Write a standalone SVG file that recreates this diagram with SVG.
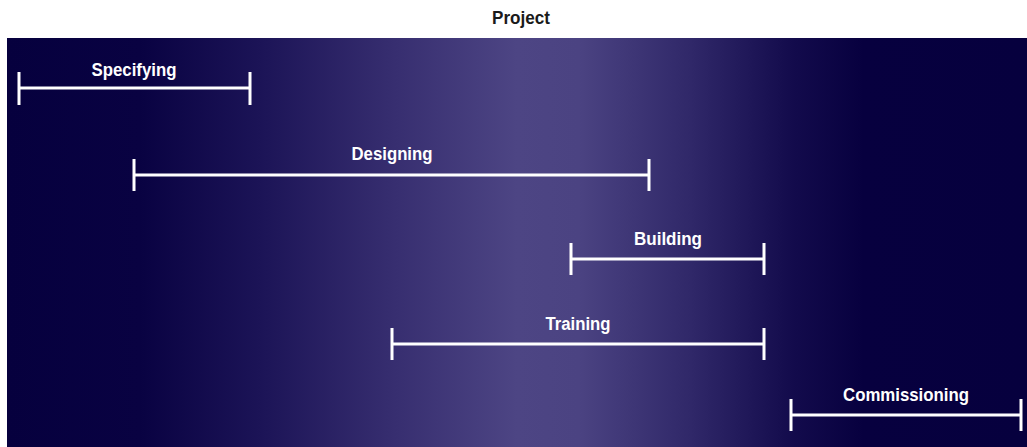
<svg xmlns="http://www.w3.org/2000/svg" width="1027" height="447" viewBox="0 0 1027 447">
<style>
.lbl{font-family:"Liberation Sans",Arial,sans-serif;font-weight:bold;font-size:18px;fill:#ffffff;text-anchor:middle}
.title{font-family:"Liberation Sans",Arial,sans-serif;font-weight:bold;font-size:18px;fill:#1a1a1a;text-anchor:middle}
.bar{stroke:#ffffff;stroke-width:3;fill:none}
</style>
<defs>
<linearGradient id="bg" x1="0" y1="0" x2="1" y2="0">
<stop offset="0" stop-color="#06003e"/>
<stop offset="0.13" stop-color="#090242"/>
<stop offset="0.25" stop-color="#1c1457"/>
<stop offset="0.38" stop-color="#372e70"/>
<stop offset="0.5" stop-color="#4d4584"/>
<stop offset="0.56" stop-color="#4b4382"/>
<stop offset="0.67" stop-color="#302869"/>
<stop offset="0.77" stop-color="#130b4c"/>
<stop offset="0.84" stop-color="#07003f"/>
<stop offset="1" stop-color="#06003e"/>
</linearGradient>
</defs>
<rect x="0" y="0" width="1027" height="447" fill="#ffffff"/>
<text class="title" x="521" y="24" textLength="58" lengthAdjust="spacingAndGlyphs">Project</text>
<rect x="7" y="38" width="1020" height="409" fill="url(#bg)"/>
<g id="connectors">
<g id="specifying-bar"><path class="bar" d="M19 88H250M19 72V105M250 72V105"/></g>
<g id="designing-bar"><path class="bar" d="M134 175H649M134 159V191M649 159V191"/></g>
<g id="building-bar"><path class="bar" d="M571 259H764M571 243V275M764 243V275"/></g>
<g id="training-bar"><path class="bar" d="M392 344H764M392 328V360M764 328V360"/></g>
<g id="commissioning-bar"><path class="bar" d="M791 415H1021M791 399V431M1021 399V431"/></g>
</g>
<g id="specifying"><text class="lbl" x="134" y="76" textLength="85" lengthAdjust="spacingAndGlyphs">Specifying</text></g>
<g id="designing"><text class="lbl" x="392" y="160" textLength="81" lengthAdjust="spacingAndGlyphs">Designing</text></g>
<g id="building"><text class="lbl" x="668" y="245" textLength="68" lengthAdjust="spacingAndGlyphs">Building</text></g>
<g id="training"><text class="lbl" x="578" y="330" textLength="65" lengthAdjust="spacingAndGlyphs">Training</text></g>
<g id="commissioning"><text class="lbl" x="906" y="401" textLength="126" lengthAdjust="spacingAndGlyphs">Commissioning</text></g>
</svg>
